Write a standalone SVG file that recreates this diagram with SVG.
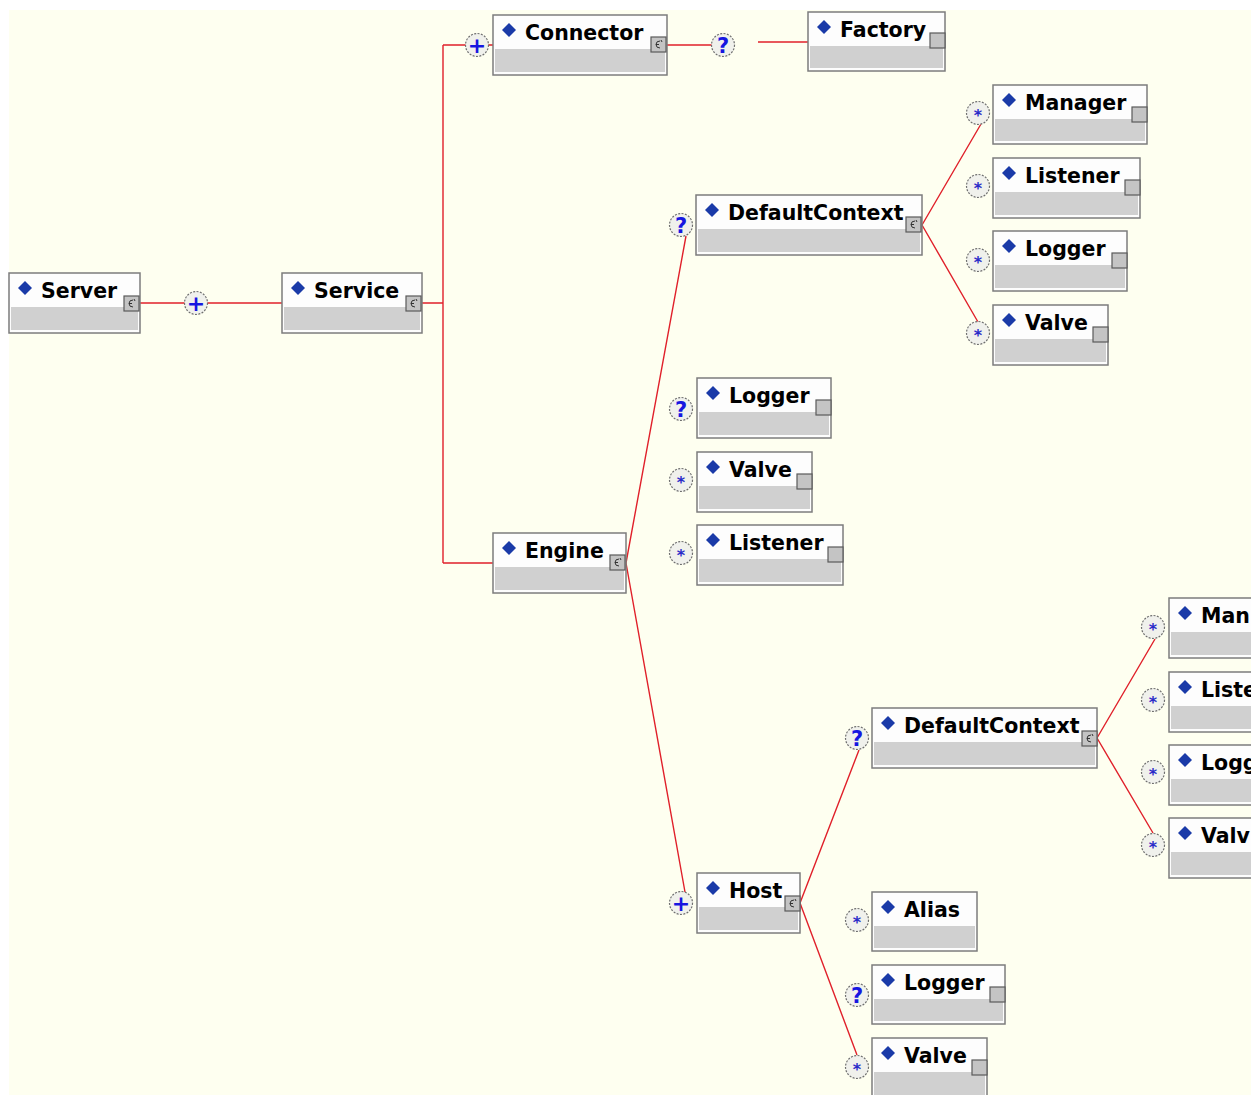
<svg xmlns="http://www.w3.org/2000/svg" width="1255" height="1095" viewBox="0 0 1255 1095">
  <defs>
    <style>
      .bg { fill: #fefff0; }
      .box { fill: #fdfdfd; stroke: #7c7c7c; stroke-width: 1.5; }
      .band { fill: #d0d0d0; }
      .dia { fill: #1a3aa8; }
      .name { font-family: "DejaVu Sans", Verdana, sans-serif; font-weight: bold; font-size: 20.5px; fill: #000; }
      .icon { fill: #c4c4c4; stroke: #5a5a5a; stroke-width: 1.2; }
      .glyph { fill: none; stroke: #333; stroke-width: 1; }
      .wire { stroke: #e0202a; stroke-width: 1.4; fill: none; }
      .ring { fill: #f0f1ec; stroke: #6e6e6e; stroke-width: 1.2; stroke-dasharray: 2 1.4; }
      .op { font-family: "DejaVu Sans", Verdana, sans-serif; font-weight: bold; fill: #1616e0; text-anchor: middle; }
      .plus { font-size: 22px; }
      .opt { font-size: 21px; }
      .many { font-size: 16px; fill: #2a2ac8; }
    </style>
    <!-- diamond marker in the header of every element box -->
    <path id="dia" class="dia" d="M0,-7 L7,0 L0,7 L-7,0 Z"/>
    <!-- plain child marker square -->
    <rect id="leaf" class="icon" width="15" height="15"/>
    <!-- expand marker with small hook symbol -->
    <g id="exp">
      <rect class="icon" width="15" height="15"/>
      <path class="glyph" d="M9,4 Q5,4 5,7.5 Q5,11 9,11 M5,7.5 L8,7.5 M10,3 L11,5"/>
    </g>
    <clipPath id="edge"><rect x="0" y="0" width="1251" height="1095"/></clipPath>
  </defs>

  <!-- canvas -->
  <rect x="0" y="0" width="1255" height="1095" fill="#ffffff"/>
  <rect class="bg" x="9" y="10" width="1242" height="1085"/>

  <!-- connectors -->
  <g id="connectors">
    <path class="wire" d="M140,303 H282"/>
    <path class="wire" d="M422,303 H443 M443,45 V563 M443,45 H493 M443,563 H493"/>
    <path class="wire" d="M667,45 H723"/>
    <path class="wire" d="M758,42 H808"/>
    <path class="wire" d="M626,563 L686,236 M626,563 L685,892"/>
    <path class="wire" d="M922,225 L981,124 M922,225 L978,322"/>
    <path class="wire" d="M800,903 L859,750 M800,903 L857,1055"/>
    <path class="wire" d="M1097,738 L1155,639 M1097,738 L1153,833"/>
  </g>

  <!-- cardinality markers -->
  <g id="markers">
    <g><circle class="ring" cx="196" cy="303" r="11.5"/><text class="op plus" x="196" y="311">+</text></g>
    <g><circle class="ring" cx="477" cy="45" r="11.5"/><text class="op plus" x="477" y="53">+</text></g>
    <g><circle class="ring" cx="723" cy="45" r="11.5"/><text class="op opt" x="723" y="52.5">?</text></g>
    <g><circle class="ring" cx="681" cy="225" r="11.5"/><text class="op opt" x="681" y="232.5">?</text></g>
    <g><circle class="ring" cx="681" cy="409" r="11.5"/><text class="op opt" x="681" y="416.5">?</text></g>
    <g><circle class="ring" cx="681" cy="480" r="11.5"/><text class="op many" x="681" y="488">*</text></g>
    <g><circle class="ring" cx="681" cy="553" r="11.5"/><text class="op many" x="681" y="561">*</text></g>
    <g><circle class="ring" cx="681" cy="903" r="11.5"/><text class="op plus" x="681" y="911">+</text></g>
    <g><circle class="ring" cx="978" cy="113" r="11.5"/><text class="op many" x="978" y="121">*</text></g>
    <g><circle class="ring" cx="978" cy="186" r="11.5"/><text class="op many" x="978" y="194">*</text></g>
    <g><circle class="ring" cx="978" cy="260" r="11.5"/><text class="op many" x="978" y="268">*</text></g>
    <g><circle class="ring" cx="978" cy="333" r="11.5"/><text class="op many" x="978" y="341">*</text></g>
    <g><circle class="ring" cx="857" cy="738" r="11.5"/><text class="op opt" x="857" y="745.5">?</text></g>
    <g><circle class="ring" cx="857" cy="920" r="11.5"/><text class="op many" x="857" y="928">*</text></g>
    <g><circle class="ring" cx="857" cy="995" r="11.5"/><text class="op opt" x="857" y="1002.5">?</text></g>
    <g><circle class="ring" cx="857" cy="1067" r="11.5"/><text class="op many" x="857" y="1075">*</text></g>
    <g><circle class="ring" cx="1153" cy="627" r="11.5"/><text class="op many" x="1153" y="635">*</text></g>
    <g><circle class="ring" cx="1153" cy="700" r="11.5"/><text class="op many" x="1153" y="708">*</text></g>
    <g><circle class="ring" cx="1153" cy="772" r="11.5"/><text class="op many" x="1153" y="780">*</text></g>
    <g><circle class="ring" cx="1153" cy="845" r="11.5"/><text class="op many" x="1153" y="853">*</text></g>
  </g>

  <!-- element boxes -->
  <g id="server" transform="translate(9,273)">
    <rect class="box" width="131" height="60"/><rect class="band" x="2" y="34" width="127" height="23"/>
    <use href="#dia" x="16" y="15"/><text class="name" x="32" y="25">Server</text>
    <use href="#exp" x="115" y="23"/>
  </g>
  <g id="service" transform="translate(282,273)">
    <rect class="box" width="140" height="60"/><rect class="band" x="2" y="34" width="136" height="23"/>
    <use href="#dia" x="16" y="15"/><text class="name" x="32" y="25">Service</text>
    <use href="#exp" x="124" y="23"/>
  </g>
  <g id="connector" transform="translate(493,15)">
    <rect class="box" width="174" height="60"/><rect class="band" x="2" y="34" width="170" height="23"/>
    <use href="#dia" x="16" y="15"/><text class="name" x="32" y="25">Connector</text>
    <use href="#exp" x="158" y="22"/>
  </g>
  <g id="factory" transform="translate(808,12)">
    <rect class="box" width="137" height="59"/><rect class="band" x="2" y="34" width="133" height="22"/>
    <use href="#dia" x="16" y="15"/><text class="name" x="32" y="25">Factory</text>
    <use href="#leaf" x="122" y="21"/>
  </g>
  <g id="engine" transform="translate(493,533)">
    <rect class="box" width="133" height="60"/><rect class="band" x="2" y="34" width="129" height="23"/>
    <use href="#dia" x="16" y="15"/><text class="name" x="32" y="25">Engine</text>
    <use href="#exp" x="117" y="22"/>
  </g>
  <g id="engine-defaultcontext" transform="translate(696,195)">
    <rect class="box" width="226" height="60"/><rect class="band" x="2" y="34" width="222" height="23"/>
    <use href="#dia" x="16" y="15"/><text class="name" x="32" y="25">DefaultContext</text>
    <use href="#exp" x="210" y="22"/>
  </g>
  <g id="dc1-manager" transform="translate(993,85)">
    <rect class="box" width="154" height="59"/><rect class="band" x="2" y="34" width="150" height="22"/>
    <use href="#dia" x="16" y="15"/><text class="name" x="32" y="25">Manager</text>
    <use href="#leaf" x="139" y="22"/>
  </g>
  <g id="dc1-listener" transform="translate(993,158)">
    <rect class="box" width="147" height="60"/><rect class="band" x="2" y="34" width="143" height="23"/>
    <use href="#dia" x="16" y="15"/><text class="name" x="32" y="25">Listener</text>
    <use href="#leaf" x="132" y="22"/>
  </g>
  <g id="dc1-logger" transform="translate(993,231)">
    <rect class="box" width="134" height="60"/><rect class="band" x="2" y="34" width="130" height="23"/>
    <use href="#dia" x="16" y="15"/><text class="name" x="32" y="25">Logger</text>
    <use href="#leaf" x="119" y="22"/>
  </g>
  <g id="dc1-valve" transform="translate(993,305)">
    <rect class="box" width="115" height="60"/><rect class="band" x="2" y="34" width="111" height="23"/>
    <use href="#dia" x="16" y="15"/><text class="name" x="32" y="25">Valve</text>
    <use href="#leaf" x="100" y="22"/>
  </g>
  <g id="engine-logger" transform="translate(697,378)">
    <rect class="box" width="134" height="60"/><rect class="band" x="2" y="34" width="130" height="23"/>
    <use href="#dia" x="16" y="15"/><text class="name" x="32" y="25">Logger</text>
    <use href="#leaf" x="119" y="22"/>
  </g>
  <g id="engine-valve" transform="translate(697,452)">
    <rect class="box" width="115" height="60"/><rect class="band" x="2" y="34" width="111" height="23"/>
    <use href="#dia" x="16" y="15"/><text class="name" x="32" y="25">Valve</text>
    <use href="#leaf" x="100" y="22"/>
  </g>
  <g id="engine-listener" transform="translate(697,525)">
    <rect class="box" width="146" height="60"/><rect class="band" x="2" y="34" width="142" height="23"/>
    <use href="#dia" x="16" y="15"/><text class="name" x="32" y="25">Listener</text>
    <use href="#leaf" x="131" y="22"/>
  </g>
  <g id="host" transform="translate(697,873)">
    <rect class="box" width="103" height="60"/><rect class="band" x="2" y="34" width="99" height="23"/>
    <use href="#dia" x="16" y="15"/><text class="name" x="32" y="25">Host</text>
    <use href="#exp" x="88" y="23"/>
  </g>
  <g id="host-defaultcontext" transform="translate(872,708)">
    <rect class="box" width="225" height="60"/><rect class="band" x="2" y="34" width="221" height="23"/>
    <use href="#dia" x="16" y="15"/><text class="name" x="32" y="25">DefaultContext</text>
    <use href="#exp" x="210" y="23"/>
  </g>
  <g id="host-alias" transform="translate(872,892)">
    <rect class="box" width="105" height="59"/><rect class="band" x="2" y="34" width="101" height="22"/>
    <use href="#dia" x="16" y="15"/><text class="name" x="32" y="25">Alias</text>
  </g>
  <g id="host-logger" transform="translate(872,965)">
    <rect class="box" width="133" height="59"/><rect class="band" x="2" y="34" width="129" height="22"/>
    <use href="#dia" x="16" y="15"/><text class="name" x="32" y="25">Logger</text>
    <use href="#leaf" x="118" y="22"/>
  </g>
  <g id="host-valve" transform="translate(872,1038)">
    <rect class="box" width="115" height="70"/><rect class="band" x="2" y="34" width="111" height="33"/>
    <use href="#dia" x="16" y="15"/><text class="name" x="32" y="25">Valve</text>
    <use href="#leaf" x="100" y="22"/>
  </g>

  <!-- second DefaultContext's children run off the right edge -->
  <g clip-path="url(#edge)">
    <g id="dc2-manager" transform="translate(1169,598)">
      <rect class="box" width="150" height="60"/><rect class="band" x="2" y="34" width="146" height="23"/>
      <use href="#dia" x="16" y="15"/><text class="name" x="32" y="25">Man</text>
    </g>
    <g id="dc2-listener" transform="translate(1169,672)">
      <rect class="box" width="150" height="60"/><rect class="band" x="2" y="34" width="146" height="23"/>
      <use href="#dia" x="16" y="15"/><text class="name" x="32" y="25">Liste</text>
    </g>
    <g id="dc2-logger" transform="translate(1169,745)">
      <rect class="box" width="150" height="60"/><rect class="band" x="2" y="34" width="146" height="23"/>
      <use href="#dia" x="16" y="15"/><text class="name" x="32" y="25">Logg</text>
    </g>
    <g id="dc2-valve" transform="translate(1169,818)">
      <rect class="box" width="150" height="60"/><rect class="band" x="2" y="34" width="146" height="23"/>
      <use href="#dia" x="16" y="15"/><text class="name" x="32" y="25">Valv</text>
    </g>
  </g>
</svg>
